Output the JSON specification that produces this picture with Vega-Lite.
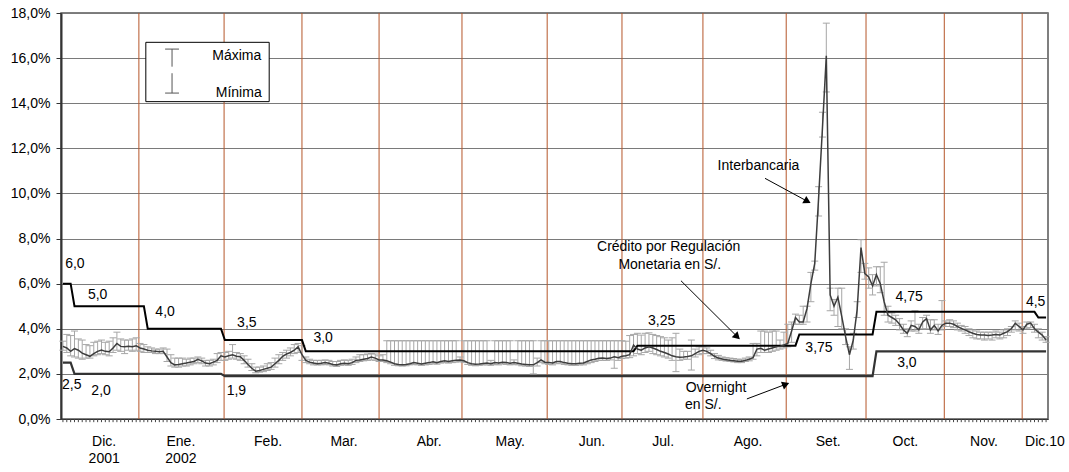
{
  "$schema": "https://vega.github.io/schema/vega-lite/v6.json",
  "width": 987,
  "height": 406,
  "autosize": {"type": "none"},
  "padding": {"left": 61, "top": 13, "right": 21, "bottom": 53},
  "background": "white",
  "config": {
    "font": "Liberation Sans",
    "view": {"stroke": "#555", "strokeWidth": 1.5},
    "axisX": {
      "grid": false,
      "labels": false,
      "ticks": false,
      "domainColor": "#333333",
      "domainWidth": 1
    },
    "axisY": {
      "grid": true,
      "gridColor": "#7a7a7a",
      "gridWidth": 1,
      "labelFontSize": 14,
      "labelColor": "#000000",
      "labelPadding": 6,
      "tickSize": 5,
      "tickColor": "#333333",
      "domainColor": "#333333",
      "domainWidth": 2
    }
  },
  "datasets": {
    "daily": [
      {"x":0.5,"r":3.22,"hi":3.45,"lo":3.05,"c":6,"o":2.5},
      {"x":1.5,"r":3.15,"hi":3.75,"lo":2.95,"c":6,"o":2.5},
      {"x":2.5,"r":3.0,"hi":3.7,"lo":2.8,"c":6,"o":2.5},
      {"x":3.5,"r":3.12,"hi":3.9,"lo":2.75,"c":5,"o":2},
      {"x":4.5,"r":3.05,"hi":3.55,"lo":2.7,"c":5,"o":2},
      {"x":5.5,"r":2.92,"hi":3.5,"lo":2.65,"c":5,"o":2},
      {"x":6.5,"r":2.85,"hi":3.3,"lo":2.7,"c":5,"o":2},
      {"x":7.5,"r":2.78,"hi":3.25,"lo":2.7,"c":5,"o":2},
      {"x":8.5,"r":2.9,"hi":3.4,"lo":2.8,"c":5,"o":2},
      {"x":9.5,"r":3.0,"hi":3.45,"lo":2.85,"c":5,"o":2},
      {"x":10.5,"r":3.06,"hi":3.5,"lo":2.9,"c":5,"o":2},
      {"x":11.5,"r":3.0,"hi":3.4,"lo":2.85,"c":5,"o":2},
      {"x":12.5,"r":2.98,"hi":3.45,"lo":2.8,"c":5,"o":2},
      {"x":13.5,"r":3.15,"hi":3.6,"lo":2.95,"c":5,"o":2},
      {"x":14.5,"r":3.35,"hi":3.85,"lo":3.05,"c":5,"o":2},
      {"x":15.5,"r":3.22,"hi":3.55,"lo":3.0,"c":5,"o":2},
      {"x":16.5,"r":3.2,"hi":3.5,"lo":2.9,"c":5,"o":2},
      {"x":17.5,"r":3.22,"hi":3.5,"lo":3.05,"c":5,"o":2},
      {"x":18.5,"r":3.2,"hi":3.55,"lo":3.0,"c":5,"o":2},
      {"x":19.5,"r":3.25,"hi":3.6,"lo":3.05,"c":5,"o":2},
      {"x":20.5,"r":3.15,"hi":3.35,"lo":3.0,"c":5,"o":2},
      {"x":21.5,"r":3.1,"hi":3.3,"lo":2.95,"c":5,"o":2},
      {"x":22.5,"r":3.05,"hi":3.2,"lo":2.95,"c":4,"o":2},
      {"x":23.5,"r":3.02,"hi":3.15,"lo":2.95,"c":4,"o":2},
      {"x":24.5,"r":3.0,"hi":3.1,"lo":2.9,"c":4,"o":2},
      {"x":25.5,"r":2.98,"hi":3.1,"lo":2.9,"c":4,"o":2},
      {"x":26.5,"r":3.0,"hi":3.15,"lo":2.9,"c":4,"o":2},
      {"x":27.5,"r":2.75,"hi":3.1,"lo":2.55,"c":4,"o":2},
      {"x":28.5,"r":2.5,"hi":2.85,"lo":2.35,"c":4,"o":2},
      {"x":29.5,"r":2.4,"hi":2.7,"lo":2.3,"c":4,"o":2},
      {"x":30.5,"r":2.42,"hi":2.7,"lo":2.3,"c":4,"o":2},
      {"x":31.5,"r":2.45,"hi":2.7,"lo":2.35,"c":4,"o":2},
      {"x":32.5,"r":2.48,"hi":2.65,"lo":2.35,"c":4,"o":2},
      {"x":33.5,"r":2.52,"hi":2.7,"lo":2.4,"c":4,"o":2},
      {"x":34.5,"r":2.55,"hi":2.7,"lo":2.45,"c":4,"o":2},
      {"x":35.5,"r":2.65,"hi":2.75,"lo":2.5,"c":4,"o":2},
      {"x":36.5,"r":2.58,"hi":2.7,"lo":2.45,"c":4,"o":2},
      {"x":37.5,"r":2.48,"hi":2.6,"lo":2.35,"c":4,"o":2},
      {"x":38.5,"r":2.45,"hi":2.6,"lo":2.35,"c":4,"o":2},
      {"x":39.5,"r":2.52,"hi":2.65,"lo":2.4,"c":4,"o":2},
      {"x":40.5,"r":2.6,"hi":2.9,"lo":2.5,"c":4,"o":2},
      {"x":41.5,"r":2.8,"hi":2.95,"lo":2.6,"c":4,"o":2},
      {"x":42.5,"r":2.75,"hi":2.95,"lo":2.6,"c":3.5,"o":1.9},
      {"x":43.5,"r":2.8,"hi":3.0,"lo":2.65,"c":3.5,"o":1.9},
      {"x":44.5,"r":2.85,"hi":3.3,"lo":2.7,"c":3.5,"o":1.9},
      {"x":45.5,"r":2.78,"hi":2.95,"lo":2.65,"c":3.5,"o":1.9},
      {"x":46.5,"r":2.76,"hi":2.9,"lo":2.6,"c":3.5,"o":1.9},
      {"x":47.5,"r":2.6,"hi":2.8,"lo":2.45,"c":3.5,"o":1.9},
      {"x":48.5,"r":2.42,"hi":2.65,"lo":2.3,"c":3.5,"o":1.9},
      {"x":49.5,"r":2.25,"hi":2.45,"lo":2.15,"c":3.5,"o":1.9},
      {"x":50.5,"r":2.12,"hi":2.3,"lo":2.05,"c":3.5,"o":1.9},
      {"x":51.5,"r":2.15,"hi":2.3,"lo":2.08,"c":3.5,"o":1.9},
      {"x":52.5,"r":2.2,"hi":2.35,"lo":2.1,"c":3.5,"o":1.9},
      {"x":53.5,"r":2.25,"hi":2.45,"lo":2.15,"c":3.5,"o":1.9},
      {"x":54.5,"r":2.3,"hi":2.5,"lo":2.2,"c":3.5,"o":1.9},
      {"x":55.5,"r":2.45,"hi":2.7,"lo":2.3,"c":3.5,"o":1.9},
      {"x":56.5,"r":2.6,"hi":2.85,"lo":2.45,"c":3.5,"o":1.9},
      {"x":57.5,"r":2.78,"hi":2.95,"lo":2.6,"c":3.5,"o":1.9},
      {"x":58.5,"r":2.88,"hi":3.05,"lo":2.7,"c":3.5,"o":1.9},
      {"x":59.5,"r":2.95,"hi":3.15,"lo":2.8,"c":3.5,"o":1.9},
      {"x":60.5,"r":3.05,"hi":3.3,"lo":2.9,"c":3.5,"o":1.9},
      {"x":61.5,"r":3.2,"hi":3.35,"lo":2.95,"c":3.5,"o":1.9},
      {"x":62.5,"r":2.85,"hi":3.25,"lo":2.6,"c":3.5,"o":1.9},
      {"x":63.5,"r":2.6,"hi":2.75,"lo":2.5,"c":3,"o":1.9},
      {"x":64.5,"r":2.52,"hi":2.65,"lo":2.45,"c":3,"o":1.9},
      {"x":65.5,"r":2.48,"hi":2.6,"lo":2.4,"c":3,"o":1.9},
      {"x":66.5,"r":2.45,"hi":2.6,"lo":2.4,"c":3,"o":1.9},
      {"x":67.5,"r":2.47,"hi":2.6,"lo":2.4,"c":3,"o":1.9},
      {"x":68.5,"r":2.5,"hi":2.62,"lo":2.42,"c":3,"o":1.9},
      {"x":69.5,"r":2.47,"hi":2.6,"lo":2.4,"c":3,"o":1.9},
      {"x":70.5,"r":2.42,"hi":2.55,"lo":2.35,"c":3,"o":1.9},
      {"x":71.5,"r":2.4,"hi":2.55,"lo":2.33,"c":3,"o":1.9},
      {"x":72.5,"r":2.45,"hi":2.6,"lo":2.38,"c":3,"o":1.9},
      {"x":73.5,"r":2.47,"hi":2.62,"lo":2.4,"c":3,"o":1.9},
      {"x":74.5,"r":2.45,"hi":2.6,"lo":2.38,"c":3,"o":1.9},
      {"x":75.5,"r":2.5,"hi":2.65,"lo":2.42,"c":3,"o":1.9},
      {"x":76.5,"r":2.6,"hi":2.75,"lo":2.5,"c":3,"o":1.9},
      {"x":77.5,"r":2.62,"hi":2.85,"lo":2.55,"c":3,"o":1.9},
      {"x":78.5,"r":2.65,"hi":2.85,"lo":2.58,"c":3,"o":1.9},
      {"x":79.5,"r":2.68,"hi":2.88,"lo":2.6,"c":3,"o":1.9},
      {"x":80.5,"r":2.75,"hi":2.9,"lo":2.62,"c":3,"o":1.9},
      {"x":81.5,"r":2.7,"hi":2.88,"lo":2.6,"c":3,"o":1.9},
      {"x":82.5,"r":2.62,"hi":2.8,"lo":2.55,"c":3,"o":1.9},
      {"x":83.5,"r":2.62,"hi":2.85,"lo":2.55,"c":3,"o":1.9},
      {"x":84.5,"r":2.58,"hi":3.47,"lo":2.5,"c":3,"o":1.9},
      {"x":85.5,"r":2.52,"hi":3.47,"lo":2.45,"c":3,"o":1.9},
      {"x":86.5,"r":2.45,"hi":3.47,"lo":2.38,"c":3,"o":1.9},
      {"x":87.5,"r":2.42,"hi":3.47,"lo":2.36,"c":3,"o":1.9},
      {"x":88.5,"r":2.4,"hi":3.47,"lo":2.35,"c":3,"o":1.9},
      {"x":89.5,"r":2.42,"hi":3.47,"lo":2.36,"c":3,"o":1.9},
      {"x":90.5,"r":2.45,"hi":3.47,"lo":2.4,"c":3,"o":1.9},
      {"x":91.5,"r":2.5,"hi":3.47,"lo":2.42,"c":3,"o":1.9},
      {"x":92.5,"r":2.47,"hi":3.47,"lo":2.4,"c":3,"o":1.9},
      {"x":93.5,"r":2.44,"hi":3.47,"lo":2.38,"c":3,"o":1.9},
      {"x":94.5,"r":2.47,"hi":3.47,"lo":2.4,"c":3,"o":1.9},
      {"x":95.5,"r":2.5,"hi":3.47,"lo":2.42,"c":3,"o":1.9},
      {"x":96.5,"r":2.54,"hi":3.47,"lo":2.45,"c":3,"o":1.9},
      {"x":97.5,"r":2.5,"hi":3.47,"lo":2.43,"c":3,"o":1.9},
      {"x":98.5,"r":2.55,"hi":3.47,"lo":2.48,"c":3,"o":1.9},
      {"x":99.5,"r":2.58,"hi":3.47,"lo":2.5,"c":3,"o":1.9},
      {"x":100.5,"r":2.55,"hi":3.47,"lo":2.48,"c":3,"o":1.9},
      {"x":101.5,"r":2.58,"hi":3.47,"lo":2.5,"c":3,"o":1.9},
      {"x":102.5,"r":2.6,"hi":3.47,"lo":2.52,"c":3,"o":1.9},
      {"x":103.5,"r":2.62,"hi":2.75,"lo":2.55,"c":3,"o":1.9},
      {"x":104.5,"r":2.58,"hi":3.47,"lo":2.5,"c":3,"o":1.9},
      {"x":105.5,"r":2.5,"hi":3.47,"lo":2.42,"c":3,"o":1.9},
      {"x":106.5,"r":2.45,"hi":3.47,"lo":2.38,"c":3,"o":1.9},
      {"x":107.5,"r":2.43,"hi":3.47,"lo":2.36,"c":3,"o":1.9},
      {"x":108.5,"r":2.44,"hi":3.47,"lo":2.38,"c":3,"o":1.9},
      {"x":109.5,"r":2.46,"hi":3.47,"lo":2.4,"c":3,"o":1.9},
      {"x":110.5,"r":2.48,"hi":3.47,"lo":2.4,"c":3,"o":1.9},
      {"x":111.5,"r":2.45,"hi":2.6,"lo":2.38,"c":3,"o":1.9},
      {"x":112.5,"r":2.5,"hi":3.47,"lo":2.42,"c":3,"o":1.9},
      {"x":113.5,"r":2.48,"hi":3.47,"lo":2.4,"c":3,"o":1.9},
      {"x":114.5,"r":2.52,"hi":3.47,"lo":2.44,"c":3,"o":1.9},
      {"x":115.5,"r":2.5,"hi":3.47,"lo":2.42,"c":3,"o":1.9},
      {"x":116.5,"r":2.47,"hi":3.47,"lo":2.4,"c":3,"o":1.9},
      {"x":117.5,"r":2.5,"hi":2.62,"lo":2.42,"c":3,"o":1.9},
      {"x":118.5,"r":2.47,"hi":3.47,"lo":2.4,"c":3,"o":1.9},
      {"x":119.5,"r":2.44,"hi":3.47,"lo":2.36,"c":3,"o":1.9},
      {"x":120.5,"r":2.42,"hi":3.47,"lo":2.35,"c":3,"o":1.9},
      {"x":121.5,"r":2.4,"hi":3.47,"lo":2.33,"c":3,"o":1.9},
      {"x":122.5,"r":2.4,"hi":3.47,"lo":2.0,"c":3,"o":1.9},
      {"x":123.5,"r":2.5,"hi":2.7,"lo":2.35,"c":3,"o":1.9},
      {"x":124.5,"r":2.62,"hi":3.47,"lo":2.5,"c":3,"o":1.9},
      {"x":125.5,"r":2.52,"hi":3.47,"lo":2.45,"c":3,"o":1.9},
      {"x":126.5,"r":2.5,"hi":3.47,"lo":2.42,"c":3,"o":1.9},
      {"x":127.5,"r":2.48,"hi":3.47,"lo":2.4,"c":3,"o":1.9},
      {"x":128.5,"r":2.55,"hi":3.47,"lo":2.45,"c":3,"o":1.9},
      {"x":129.5,"r":2.55,"hi":3.47,"lo":2.47,"c":3,"o":1.9},
      {"x":130.5,"r":2.5,"hi":3.47,"lo":2.42,"c":3,"o":1.9},
      {"x":131.5,"r":2.47,"hi":3.47,"lo":2.4,"c":3,"o":1.9},
      {"x":132.5,"r":2.45,"hi":3.47,"lo":2.38,"c":3,"o":1.9},
      {"x":133.5,"r":2.45,"hi":3.47,"lo":2.38,"c":3,"o":1.9},
      {"x":134.5,"r":2.47,"hi":3.47,"lo":2.4,"c":3,"o":1.9},
      {"x":135.5,"r":2.48,"hi":3.47,"lo":2.4,"c":3,"o":1.9},
      {"x":136.5,"r":2.55,"hi":3.47,"lo":2.45,"c":3,"o":1.9},
      {"x":137.5,"r":2.62,"hi":3.47,"lo":2.5,"c":3,"o":1.9},
      {"x":138.5,"r":2.65,"hi":3.47,"lo":2.55,"c":3,"o":1.9},
      {"x":139.5,"r":2.69,"hi":3.47,"lo":2.6,"c":3,"o":1.9},
      {"x":140.5,"r":2.7,"hi":3.47,"lo":2.6,"c":3,"o":1.9},
      {"x":141.5,"r":2.68,"hi":3.47,"lo":2.6,"c":3,"o":1.9},
      {"x":142.5,"r":2.7,"hi":3.47,"lo":2.62,"c":3,"o":1.9},
      {"x":143.5,"r":2.76,"hi":3.47,"lo":2.25,"c":3,"o":1.9},
      {"x":144.5,"r":2.72,"hi":3.47,"lo":2.6,"c":3,"o":1.9},
      {"x":145.5,"r":2.78,"hi":3.47,"lo":2.68,"c":3,"o":1.9},
      {"x":146.5,"r":2.8,"hi":3.45,"lo":2.7,"c":3,"o":1.9},
      {"x":147.5,"r":2.85,"hi":3.7,"lo":2.72,"c":3,"o":1.9},
      {"x":148.5,"r":3.28,"hi":3.75,"lo":2.8,"c":3,"o":1.9},
      {"x":149.5,"r":3.1,"hi":3.8,"lo":2.9,"c":3.25,"o":1.9},
      {"x":150.5,"r":3.05,"hi":3.72,"lo":2.85,"c":3.25,"o":1.9},
      {"x":151.5,"r":3.15,"hi":3.8,"lo":2.95,"c":3.25,"o":1.9},
      {"x":152.5,"r":3.2,"hi":3.82,"lo":3.0,"c":3.25,"o":1.9},
      {"x":153.5,"r":3.15,"hi":3.75,"lo":2.9,"c":3.25,"o":1.9},
      {"x":154.5,"r":3.08,"hi":3.7,"lo":2.85,"c":3.25,"o":1.9},
      {"x":155.5,"r":3.0,"hi":3.65,"lo":2.8,"c":3.25,"o":1.9},
      {"x":156.5,"r":2.95,"hi":3.6,"lo":2.75,"c":3.25,"o":1.9},
      {"x":157.5,"r":2.88,"hi":3.5,"lo":2.7,"c":3.25,"o":1.9},
      {"x":158.5,"r":2.8,"hi":3.6,"lo":2.6,"c":3.25,"o":1.9},
      {"x":159.5,"r":2.76,"hi":3.8,"lo":2.1,"c":3.25,"o":1.9},
      {"x":160.5,"r":2.74,"hi":3.1,"lo":2.6,"c":3.25,"o":1.9},
      {"x":161.5,"r":2.75,"hi":3.0,"lo":2.65,"c":3.25,"o":1.9},
      {"x":162.5,"r":2.77,"hi":3.0,"lo":2.65,"c":3.25,"o":1.9},
      {"x":163.5,"r":2.8,"hi":3.5,"lo":2.17,"c":3.25,"o":1.9},
      {"x":164.5,"r":2.9,"hi":3.1,"lo":2.75,"c":3.25,"o":1.9},
      {"x":165.5,"r":3.0,"hi":3.2,"lo":2.85,"c":3.25,"o":1.9},
      {"x":166.5,"r":3.05,"hi":3.2,"lo":2.9,"c":3.25,"o":1.9},
      {"x":167.5,"r":3.0,"hi":3.15,"lo":2.9,"c":3.25,"o":1.9},
      {"x":168.5,"r":2.9,"hi":3.05,"lo":2.8,"c":3.25,"o":1.9},
      {"x":169.5,"r":2.78,"hi":2.9,"lo":2.68,"c":3.25,"o":1.9},
      {"x":170.5,"r":2.7,"hi":2.82,"lo":2.62,"c":3.25,"o":1.9},
      {"x":171.5,"r":2.66,"hi":2.75,"lo":2.6,"c":3.25,"o":1.9},
      {"x":172.5,"r":2.63,"hi":2.72,"lo":2.57,"c":3.25,"o":1.9},
      {"x":173.5,"r":2.6,"hi":2.7,"lo":2.55,"c":3.25,"o":1.9},
      {"x":174.5,"r":2.58,"hi":2.68,"lo":2.53,"c":3.25,"o":1.9},
      {"x":175.5,"r":2.56,"hi":2.65,"lo":2.5,"c":3.25,"o":1.9},
      {"x":176.5,"r":2.56,"hi":2.65,"lo":2.5,"c":3.25,"o":1.9},
      {"x":177.5,"r":2.6,"hi":2.7,"lo":2.55,"c":3.25,"o":1.9},
      {"x":178.5,"r":2.65,"hi":2.75,"lo":2.58,"c":3.25,"o":1.9},
      {"x":179.5,"r":2.72,"hi":3.35,"lo":2.65,"c":3.25,"o":1.9},
      {"x":180.5,"r":3.1,"hi":3.35,"lo":2.8,"c":3.25,"o":1.9},
      {"x":181.5,"r":3.13,"hi":3.9,"lo":2.95,"c":3.25,"o":1.9},
      {"x":182.5,"r":3.05,"hi":3.9,"lo":2.95,"c":3.25,"o":1.9},
      {"x":183.5,"r":3.1,"hi":3.85,"lo":2.95,"c":3.25,"o":1.9},
      {"x":184.5,"r":3.15,"hi":3.9,"lo":3.0,"c":3.25,"o":1.9},
      {"x":185.5,"r":3.2,"hi":3.9,"lo":3.05,"c":3.25,"o":1.9},
      {"x":186.5,"r":3.22,"hi":3.5,"lo":3.1,"c":3.25,"o":1.9},
      {"x":187.5,"r":3.28,"hi":3.85,"lo":3.15,"c":3.25,"o":1.9},
      {"x":188.5,"r":3.35,"hi":4.2,"lo":3.2,"c":3.25,"o":1.9},
      {"x":189.5,"r":3.9,"hi":4.3,"lo":3.4,"c":3.25,"o":1.9},
      {"x":190.5,"r":4.5,"hi":4.65,"lo":4.2,"c":3.25,"o":1.9},
      {"x":191.5,"r":4.3,"hi":4.6,"lo":4.2,"c":3.75,"o":1.9},
      {"x":192.5,"r":4.3,"hi":5.0,"lo":4.2,"c":3.75,"o":1.9},
      {"x":193.5,"r":4.9,"hi":5.0,"lo":4.3,"c":3.75,"o":1.9},
      {"x":194.5,"r":6.0,"hi":6.5,"lo":5.2,"c":3.75,"o":1.9},
      {"x":195.5,"r":6.9,"hi":7.0,"lo":6.6,"c":3.75,"o":1.9},
      {"x":196.5,"r":9.8,"hi":10.3,"lo":9.0,"c":3.75,"o":1.9},
      {"x":197.5,"r":12.9,"hi":13.6,"lo":12.5,"c":3.75,"o":1.9},
      {"x":198.5,"r":16.1,"hi":17.55,"lo":14.5,"c":3.75,"o":1.9},
      {"x":199.5,"r":5.5,"hi":5.8,"lo":4.8,"c":3.75,"o":1.9},
      {"x":200.5,"r":5.0,"hi":5.3,"lo":4.6,"c":3.75,"o":1.9},
      {"x":201.5,"r":5.4,"hi":5.8,"lo":4.1,"c":3.75,"o":1.9},
      {"x":202.5,"r":4.55,"hi":5.8,"lo":4.0,"c":3.75,"o":1.9},
      {"x":203.5,"r":3.65,"hi":4.0,"lo":3.3,"c":3.75,"o":1.9},
      {"x":204.5,"r":2.85,"hi":3.2,"lo":2.2,"c":3.75,"o":1.9},
      {"x":205.5,"r":3.5,"hi":3.8,"lo":3.1,"c":3.75,"o":1.9},
      {"x":206.5,"r":4.85,"hi":5.2,"lo":4.5,"c":3.75,"o":1.9},
      {"x":207.5,"r":7.6,"hi":7.95,"lo":6.5,"c":3.75,"o":1.9},
      {"x":208.5,"r":6.45,"hi":6.9,"lo":6.2,"c":3.75,"o":1.9},
      {"x":209.5,"r":6.3,"hi":6.7,"lo":5.8,"c":3.75,"o":1.9},
      {"x":210.5,"r":5.9,"hi":6.4,"lo":5.5,"c":3.75,"o":1.9},
      {"x":211.5,"r":6.4,"hi":6.75,"lo":5.9,"c":4.75,"o":3},
      {"x":212.5,"r":6.0,"hi":6.75,"lo":5.6,"c":4.75,"o":3},
      {"x":213.5,"r":5.2,"hi":6.95,"lo":4.6,"c":4.75,"o":3},
      {"x":214.5,"r":4.6,"hi":5.0,"lo":4.3,"c":4.75,"o":3},
      {"x":215.5,"r":4.5,"hi":4.7,"lo":4.25,"c":4.75,"o":3},
      {"x":216.5,"r":4.4,"hi":4.6,"lo":4.15,"c":4.75,"o":3},
      {"x":217.5,"r":4.2,"hi":4.45,"lo":3.95,"c":4.75,"o":3},
      {"x":218.5,"r":3.95,"hi":4.2,"lo":3.8,"c":4.75,"o":3},
      {"x":219.5,"r":3.8,"hi":4.0,"lo":3.65,"c":4.75,"o":3},
      {"x":220.5,"r":4.15,"hi":4.35,"lo":3.9,"c":4.75,"o":3},
      {"x":221.5,"r":4.1,"hi":4.8,"lo":3.9,"c":4.75,"o":3},
      {"x":222.5,"r":3.95,"hi":4.2,"lo":3.8,"c":4.75,"o":3},
      {"x":223.5,"r":4.3,"hi":4.5,"lo":4.0,"c":4.75,"o":3},
      {"x":224.5,"r":4.45,"hi":4.6,"lo":4.0,"c":4.75,"o":3},
      {"x":225.5,"r":3.95,"hi":4.4,"lo":3.8,"c":4.75,"o":3},
      {"x":226.5,"r":4.15,"hi":4.4,"lo":3.95,"c":4.75,"o":3},
      {"x":227.5,"r":3.9,"hi":4.2,"lo":3.75,"c":4.75,"o":3},
      {"x":228.5,"r":4.15,"hi":5.25,"lo":3.95,"c":4.75,"o":3},
      {"x":229.5,"r":4.25,"hi":4.35,"lo":4.1,"c":4.75,"o":3},
      {"x":230.5,"r":4.25,"hi":4.4,"lo":4.1,"c":4.75,"o":3},
      {"x":231.5,"r":4.2,"hi":4.35,"lo":4.05,"c":4.75,"o":3},
      {"x":232.5,"r":4.1,"hi":4.25,"lo":3.95,"c":4.75,"o":3},
      {"x":233.5,"r":4.02,"hi":4.15,"lo":3.9,"c":4.75,"o":3},
      {"x":234.5,"r":3.95,"hi":4.1,"lo":3.8,"c":4.75,"o":3},
      {"x":235.5,"r":3.87,"hi":4.0,"lo":3.7,"c":4.75,"o":3},
      {"x":236.5,"r":3.8,"hi":3.95,"lo":3.6,"c":4.75,"o":3},
      {"x":237.5,"r":3.75,"hi":3.9,"lo":3.55,"c":4.75,"o":3},
      {"x":238.5,"r":3.72,"hi":3.85,"lo":3.55,"c":4.75,"o":3},
      {"x":239.5,"r":3.72,"hi":3.85,"lo":3.5,"c":4.75,"o":3},
      {"x":240.5,"r":3.7,"hi":3.85,"lo":3.55,"c":4.75,"o":3},
      {"x":241.5,"r":3.72,"hi":3.85,"lo":3.5,"c":4.75,"o":3},
      {"x":242.5,"r":3.75,"hi":3.9,"lo":3.6,"c":4.75,"o":3},
      {"x":243.5,"r":3.72,"hi":3.85,"lo":3.55,"c":4.75,"o":3},
      {"x":244.5,"r":3.8,"hi":3.95,"lo":3.6,"c":4.75,"o":3},
      {"x":245.5,"r":3.87,"hi":4.0,"lo":3.7,"c":4.75,"o":3},
      {"x":246.5,"r":4.0,"hi":4.1,"lo":3.85,"c":4.75,"o":3},
      {"x":247.5,"r":4.24,"hi":4.35,"lo":3.95,"c":4.75,"o":3},
      {"x":248.5,"r":4.1,"hi":4.25,"lo":3.9,"c":4.75,"o":3},
      {"x":249.5,"r":3.95,"hi":4.1,"lo":3.8,"c":4.75,"o":3},
      {"x":250.5,"r":4.2,"hi":4.3,"lo":4.0,"c":4.75,"o":3},
      {"x":251.5,"r":4.25,"hi":4.3,"lo":4.05,"c":4.75,"o":3},
      {"x":252.5,"r":4.0,"hi":4.2,"lo":3.85,"c":4.75,"o":3},
      {"x":253.5,"r":3.85,"hi":4.0,"lo":3.6,"c":4.5,"o":3},
      {"x":254.5,"r":3.72,"hi":3.85,"lo":3.5,"c":4.5,"o":3},
      {"x":255.5,"r":3.5,"hi":3.65,"lo":3.4,"c":4.5,"o":3}
    ],
    "months": [{"b":20.2},{"b":42.3},{"b":62.5},{"b":82.5},{"b":104.0},{"b":126.1},{"b":145.5},{"b":166.5},{"b":188.1},{"b":208.8},{"b":229.1},{"b":249.3}],
    "texts": [
      {"x":3.6,"y":6.86,"t":"6,0"},
      {"x":9.5,"y":5.5,"t":"5,0"},
      {"x":27.0,"y":4.76,"t":"4,0"},
      {"x":48.2,"y":4.27,"t":"3,5"},
      {"x":68.0,"y":3.58,"t":"3,0"},
      {"x":2.8,"y":1.51,"t":"2,5"},
      {"x":10.4,"y":1.26,"t":"2,0"},
      {"x":45.5,"y":1.26,"t":"1,9"},
      {"x":155.8,"y":4.36,"t":"3,25"},
      {"x":196.6,"y":3.16,"t":"3,75"},
      {"x":220.0,"y":5.4,"t":"4,75"},
      {"x":252.8,"y":5.2,"t":"4,5"},
      {"x":219.4,"y":2.5,"t":"3,0"},
      {"x":180.9,"y":11.23,"t":"Interbancaria"},
      {"x":157.6,"y":7.61,"t":"Crédito por Regulación"},
      {"x":157.9,"y":6.83,"t":"Monetaria en S/."},
      {"x":169.9,"y":1.36,"t":"Overnight"},
      {"x":166.6,"y":0.62,"t":"en S/."},
      {"x":45.6,"y":16.1,"t":"Máxima"},
      {"x":46.1,"y":14.44,"t":"Mínima"},
      {"x":11.2,"y":-1.03,"t":"Dic."},
      {"x":11.2,"y":-1.79,"t":"2001"},
      {"x":31.1,"y":-1.03,"t":"Ene."},
      {"x":31.1,"y":-1.79,"t":"2002"},
      {"x":53.7,"y":-1.03,"t":"Feb."},
      {"x":73.4,"y":-1.03,"t":"Mar."},
      {"x":95.5,"y":-1.03,"t":"Abr."},
      {"x":116.5,"y":-1.03,"t":"May."},
      {"x":137.7,"y":-1.03,"t":"Jun."},
      {"x":156.2,"y":-1.03,"t":"Jul."},
      {"x":178.2,"y":-1.03,"t":"Ago."},
      {"x":199.0,"y":-1.03,"t":"Set."},
      {"x":219.0,"y":-1.03,"t":"Oct."},
      {"x":239.4,"y":-1.03,"t":"Nov."},
      {"x":255.2,"y":-1.03,"t":"Dic.10"}
    ],
    "arrows": [
      {"k":"a","x":182.6,"y":10.67,"x2":193.6,"y2":9.65},
      {"k":"b","x":160.8,"y":6.13,"x2":175.4,"y2":3.65},
      {"k":"c","x":177.9,"y":0.89,"x2":188.0,"y2":1.54}
    ],
    "box": [{"x":22.0,"x2":54.0,"y":16.7,"y2":14.07}],
    "icon": [
      {"x":28.8,"x2":28.8,"y":16.4,"y2":15.62},
      {"x":28.8,"x2":28.8,"y":15.33,"y2":14.45},
      {"x":27.0,"x2":30.6,"y":16.4,"y2":16.4},
      {"x":27.0,"x2":30.6,"y":14.45,"y2":14.45}
    ]
  },
  "data": {"name": "daily"},
  "layer": [
    {
      "data": {"name": "months"},
      "mark": {"type": "rule", "color": "#b5562a", "strokeWidth": 1},
      "encoding": {
        "x": {
          "field": "b", "type": "quantitative", "title": null,
          "scale": {"domain": [0, 256], "nice": false, "zero": false},
          "axis": {"title": null, "labels": false, "ticks": false}
        }
      }
    },
    {
      "mark": {"type": "rule", "color": "#444444", "strokeWidth": 1},
      "encoding": {
        "x": {"field": "x", "type": "quantitative", "title": null, "scale": {"domain": [0, 256], "nice": false, "zero": false}},
        "y": {"datum": 0, "type": "quantitative", "scale": {"domain": [0, 18], "nice": false}},
        "y2": {"datum": -0.14}
      }
    },
    {
      "mark": {"type": "rule", "color": "#a6a6a6", "strokeWidth": 1},
      "encoding": {
        "x": {"field": "x", "type": "quantitative", "title": null, "scale": {"domain": [0, 256], "nice": false, "zero": false}},
        "y": {
          "field": "lo", "type": "quantitative", "title": null,
          "scale": {"domain": [0, 18], "nice": false},
          "axis": {
            "title": null,
            "values": [0,2,4,6,8,10,12,14,16,18],
            "labelExpr": "replace(format(datum.value,'.1f'),'.',',')+'%'"
          }
        },
        "y2": {"field": "hi"}
      }
    },
    {
      "mark": {"type": "tick", "orient": "horizontal", "color": "#a6a6a6", "size": 7, "thickness": 1, "opacity": 1},
      "encoding": {
        "x": {"field": "x", "type": "quantitative", "title": null, "scale": {"domain": [0, 256], "nice": false, "zero": false}},
        "y": {"field": "hi", "type": "quantitative", "title": null, "scale": {"domain": [0, 18], "nice": false}}
      }
    },
    {
      "mark": {"type": "tick", "orient": "horizontal", "color": "#a6a6a6", "size": 7, "thickness": 1, "opacity": 1},
      "encoding": {
        "x": {"field": "x", "type": "quantitative", "title": null, "scale": {"domain": [0, 256], "nice": false, "zero": false}},
        "y": {"field": "lo", "type": "quantitative", "title": null, "scale": {"domain": [0, 18], "nice": false}}
      }
    },
    {
      "mark": {"type": "line", "color": "#333333", "strokeWidth": 2.2},
      "encoding": {
        "x": {"field": "x", "type": "quantitative", "title": null, "scale": {"domain": [0, 256], "nice": false, "zero": false}},
        "y": {"field": "o", "type": "quantitative", "title": null, "scale": {"domain": [0, 18], "nice": false}}
      }
    },
    {
      "mark": {"type": "line", "color": "#000000", "strokeWidth": 2},
      "encoding": {
        "x": {"field": "x", "type": "quantitative", "title": null, "scale": {"domain": [0, 256], "nice": false, "zero": false}},
        "y": {"field": "c", "type": "quantitative", "title": null, "scale": {"domain": [0, 18], "nice": false}}
      }
    },
    {
      "mark": {"type": "line", "color": "#3d3d3d", "strokeWidth": 1.5},
      "encoding": {
        "x": {"field": "x", "type": "quantitative", "title": null, "scale": {"domain": [0, 256], "nice": false, "zero": false}},
        "y": {"field": "r", "type": "quantitative", "title": null, "scale": {"domain": [0, 18], "nice": false}}
      }
    },
    {
      "data": {"name": "box"},
      "mark": {"type": "rect", "fill": "white", "stroke": "#000000", "strokeWidth": 1},
      "encoding": {
        "x": {"field": "x", "type": "quantitative", "title": null, "scale": {"domain": [0, 256], "nice": false, "zero": false}},
        "x2": {"field": "x2"},
        "y": {"field": "y", "type": "quantitative", "title": null, "scale": {"domain": [0, 18], "nice": false}},
        "y2": {"field": "y2"}
      }
    },
    {
      "data": {"name": "icon"},
      "mark": {"type": "rule", "color": "#555555", "strokeWidth": 1},
      "encoding": {
        "x": {"field": "x", "type": "quantitative", "title": null, "scale": {"domain": [0, 256], "nice": false, "zero": false}},
        "x2": {"field": "x2"},
        "y": {"field": "y", "type": "quantitative", "title": null, "scale": {"domain": [0, 18], "nice": false}},
        "y2": {"field": "y2"}
      }
    },
    {
      "data": {"name": "arrows"},
      "mark": {"type": "rule", "color": "#000000", "strokeWidth": 1},
      "encoding": {
        "x": {"field": "x", "type": "quantitative", "title": null, "scale": {"domain": [0, 256], "nice": false, "zero": false}},
        "x2": {"field": "x2"},
        "y": {"field": "y", "type": "quantitative", "title": null, "scale": {"domain": [0, 18], "nice": false}},
        "y2": {"field": "y2"}
      }
    },
    {
      "data": {"name": "arrows"},
      "transform": [{"filter": "datum.k == 'a'"}],
      "mark": {"type": "point", "shape": "triangle-up", "filled": true, "color": "#000000", "size": 70, "angle": 119, "opacity": 1},
      "encoding": {
        "x": {"field": "x2", "type": "quantitative", "title": null, "scale": {"domain": [0, 256], "nice": false, "zero": false}},
        "y": {"field": "y2", "type": "quantitative", "title": null, "scale": {"domain": [0, 18], "nice": false}}
      }
    },
    {
      "data": {"name": "arrows"},
      "transform": [{"filter": "datum.k == 'b'"}],
      "mark": {"type": "point", "shape": "triangle-up", "filled": true, "color": "#000000", "size": 70, "angle": 134, "opacity": 1},
      "encoding": {
        "x": {"field": "x2", "type": "quantitative", "title": null, "scale": {"domain": [0, 256], "nice": false, "zero": false}},
        "y": {"field": "y2", "type": "quantitative", "title": null, "scale": {"domain": [0, 18], "nice": false}}
      }
    },
    {
      "data": {"name": "arrows"},
      "transform": [{"filter": "datum.k == 'c'"}],
      "mark": {"type": "point", "shape": "triangle-up", "filled": true, "color": "#000000", "size": 70, "angle": 69, "opacity": 1},
      "encoding": {
        "x": {"field": "x2", "type": "quantitative", "title": null, "scale": {"domain": [0, 256], "nice": false, "zero": false}},
        "y": {"field": "y2", "type": "quantitative", "title": null, "scale": {"domain": [0, 18], "nice": false}}
      }
    },
    {
      "data": {"name": "texts"},
      "mark": {"type": "text", "fontSize": 14, "color": "#000000", "align": "center", "baseline": "middle"},
      "encoding": {
        "x": {"field": "x", "type": "quantitative", "title": null, "scale": {"domain": [0, 256], "nice": false, "zero": false}},
        "y": {"field": "y", "type": "quantitative", "title": null, "scale": {"domain": [0, 18], "nice": false}},
        "text": {"field": "t", "type": "nominal"}
      }
    }
  ]
}
